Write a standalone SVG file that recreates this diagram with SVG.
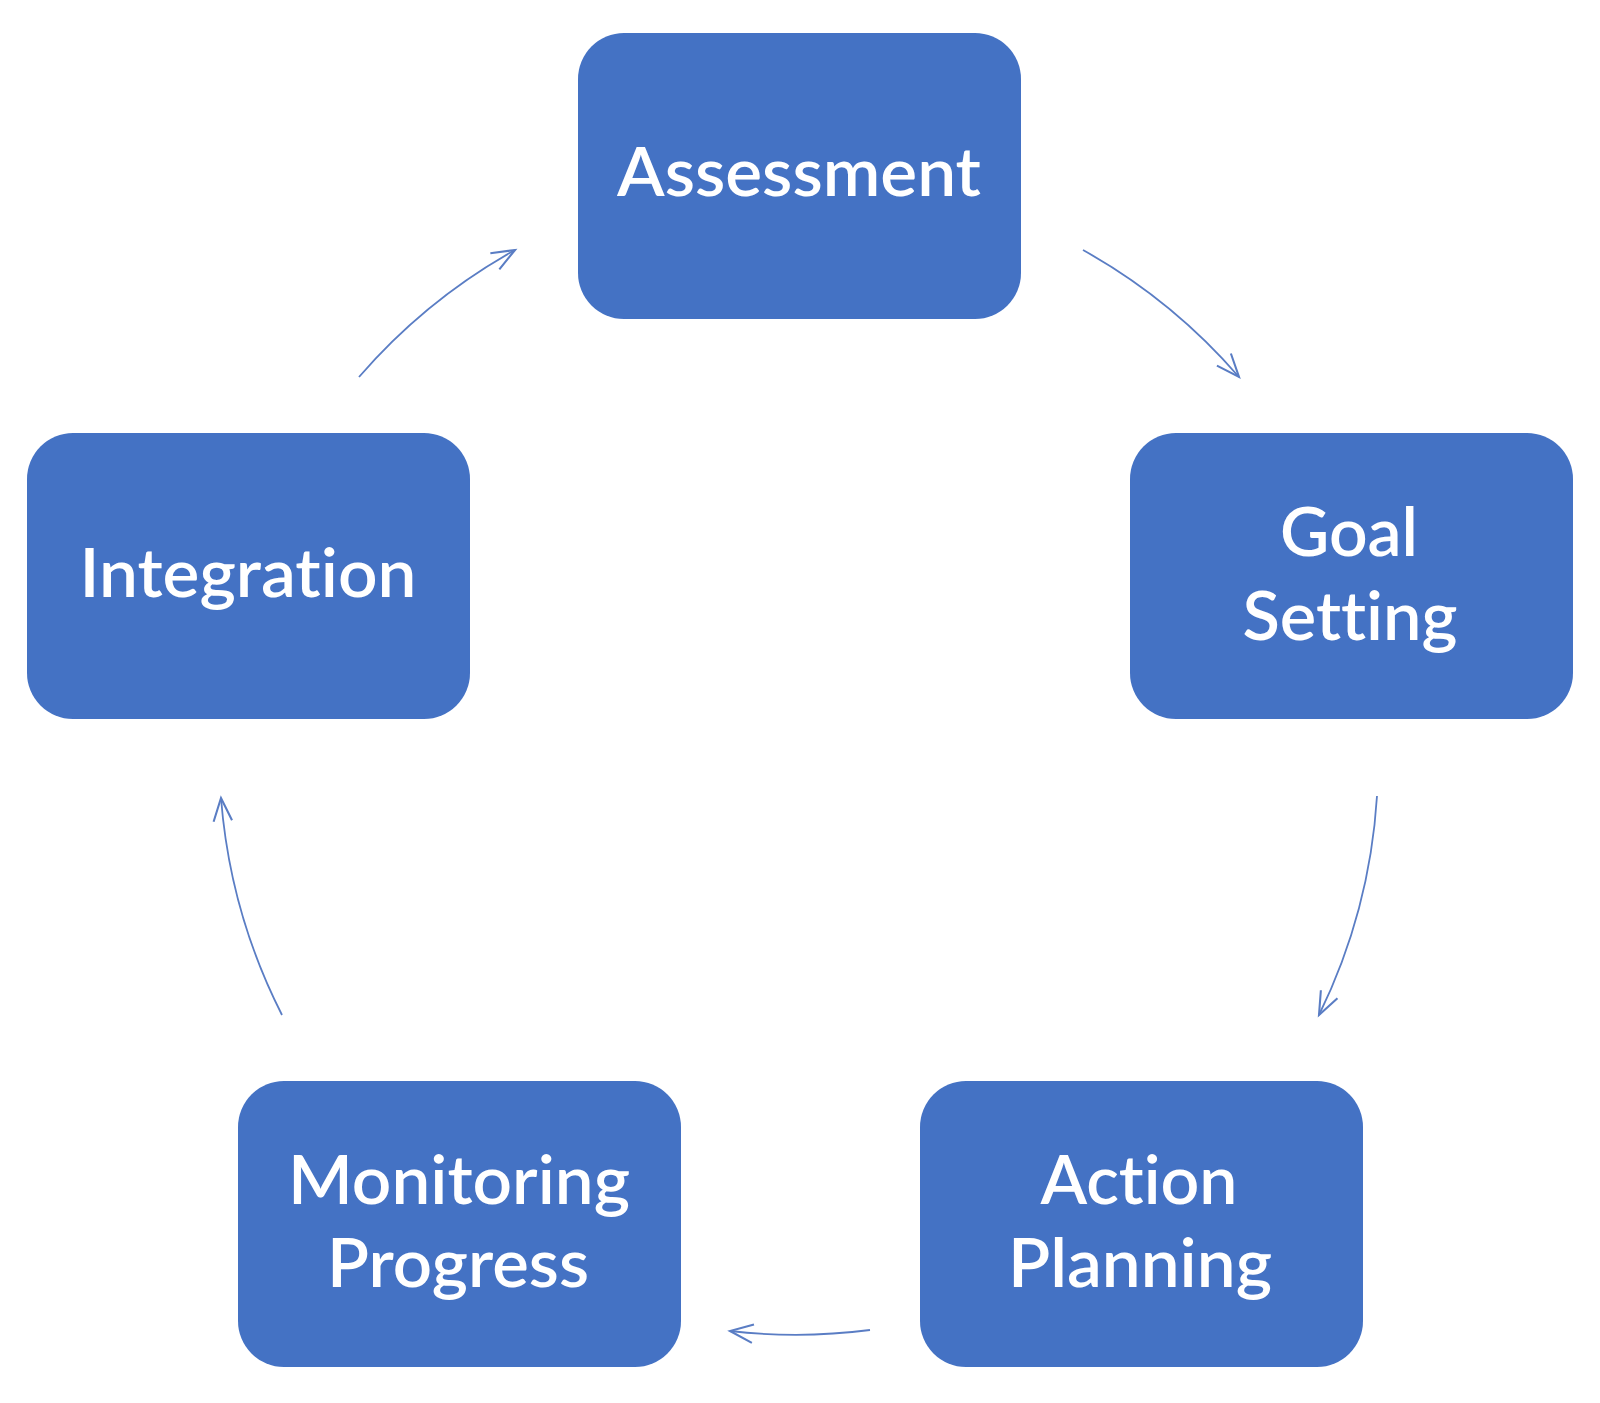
<svg xmlns="http://www.w3.org/2000/svg" width="1600" height="1403" viewBox="0 0 1600 1403">
<style>
.box{fill:#4472C4;}
.lbl{fill:#FFFFFF;font-family:Lato,"Open Sans",sans-serif;font-size:68px;font-weight:600;text-anchor:middle;font-variant-ligatures:none;font-feature-settings:"liga" 0,"clig" 0,"dlig" 0;}
.conn{fill:none;stroke:#5A7DC4;stroke-width:1.8;marker-end:url(#arr);}
</style>
<defs>
<marker id="arr" markerUnits="userSpaceOnUse" markerWidth="30" markerHeight="30" viewBox="-22 -12 26 24" refX="0" refY="0" orient="auto">
<path d="M-20,-8 L0,0 L-20,8" fill="none" stroke="#5A7DC4" stroke-width="1.8"/>
</marker>
</defs>
<rect width="1600" height="1403" fill="#FFFFFF"/>
<g id="connectors">
<path class="conn" d="M1083,250 A579,579 0 0 1 1239,377"/>
<path class="conn" d="M1377,796 A579,579 0 0 1 1319,1015"/>
<path class="conn" d="M870,1330 A579,579 0 0 1 730,1331"/>
<path class="conn" d="M282,1015 A579,579 0 0 1 221,798"/>
<path class="conn" d="M359,377 A579,579 0 0 1 515,250"/>
</g>
<g id="assessment">
<rect class="box" x="578" y="33" width="443" height="286" rx="46"/>
<text class="lbl" x="799" y="196" textLength="364" lengthAdjust="spacingAndGlyphs">Assessment</text>
</g>
<g id="goal-setting">
<rect class="box" x="1130" y="433" width="443" height="286" rx="46"/>
<text class="lbl" x="1349" y="556" textLength="138" lengthAdjust="spacingAndGlyphs">Goal</text>
<text class="lbl" x="1350" y="640" textLength="215" lengthAdjust="spacingAndGlyphs">Setting</text>
</g>
<g id="action-planning">
<rect class="box" x="920" y="1081" width="443" height="286" rx="46"/>
<text class="lbl" x="1139" y="1204" textLength="197" lengthAdjust="spacingAndGlyphs">Action</text>
<text class="lbl" x="1140" y="1287" textLength="264" lengthAdjust="spacingAndGlyphs">Planning</text>
</g>
<g id="monitoring-progress">
<rect class="box" x="238" y="1081" width="443" height="286" rx="46"/>
<text class="lbl" x="459" y="1204" textLength="342" lengthAdjust="spacingAndGlyphs">Monitoring</text>
<text class="lbl" x="458" y="1287" textLength="262" lengthAdjust="spacingAndGlyphs">Progress</text>
</g>
<g id="integration">
<rect class="box" x="27" y="433" width="443" height="286" rx="46"/>
<text class="lbl" x="248" y="597" textLength="337" lengthAdjust="spacingAndGlyphs">Integration</text>
</g>
</svg>
